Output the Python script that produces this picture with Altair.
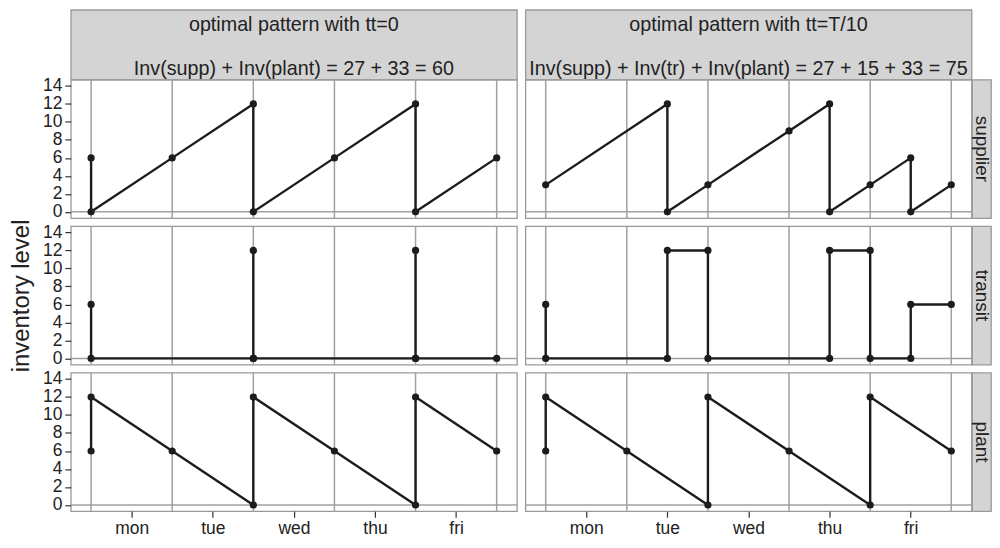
import json
import altair as alt
import pandas as pd

# ---------------- data ----------------
pattern_titles = ["optimal pattern with tt=0", "optimal pattern with tt=T/10"]
pattern_sums = ["Inv(supp) + Inv(plant) = 27 + 33 = 60",
                "Inv(supp) + Inv(tr) + Inv(plant) = 27 + 15 + 33 = 75"]
locations = ["supplier", "transit", "plant"]
day_labels = ["mon", "tue", "wed", "thu", "fri"]
day_ticks = [0.5, 1.5, 2.5, 3.5, 4.5]
day_bounds = [0, 1, 2, 3, 4, 5]
y_ticks = [0, 2, 4, 6, 8, 10, 12, 14]

# tt = 0
supp0_x = [0, 0, 1, 2, 2, 3, 4, 4, 5]
supp0_y = [6, 0, 6, 12, 0, 6, 12, 0, 6]
tran0_x = [0, 0, 2, 2, 2, 4, 4, 4, 5]
tran0_y = [6, 0, 0, 12, 0, 0, 12, 0, 0]
plan0_x = [0, 0, 1, 2, 2, 3, 4, 4, 5]
plan0_y = [6, 12, 6, 0, 12, 6, 0, 12, 6]
# tt = T/10
supp1_x = [0, 1.5, 1.5, 2, 3, 3.5, 3.5, 4, 4.5, 4.5, 5]
supp1_y = [3, 12, 0, 3, 9, 12, 0, 3, 6, 0, 3]
tran1_x = [0, 0, 1.5, 1.5, 2, 2, 3.5, 3.5, 4, 4, 4.5, 4.5, 5]
tran1_y = [6, 0, 0, 12, 12, 0, 0, 12, 12, 0, 0, 6, 6]
plan1_x = [0, 0, 1, 2, 2, 3, 4, 4, 5]
plan1_y = [6, 12, 6, 0, 12, 6, 0, 12, 6]

series = {
    (0, "supplier"): (supp0_x, supp0_y),
    (0, "transit"): (tran0_x, tran0_y),
    (0, "plant"): (plan0_x, plan0_y),
    (1, "supplier"): (supp1_x, supp1_y),
    (1, "transit"): (tran1_x, tran1_y),
    (1, "plant"): (plan1_x, plan1_y),
}

# ---------------- style ----------------
FONT = "Liberation Sans"
GRID = "#a0a0a0"
BORDER = "#999999"
STRIP = "#d4d4d4"
INK = "#1c1c1c"
TXT = "#222222"
PW, PH = 447.5, 139
STRIP_H = 70
RSTRIP_W = 19
GAP_W, GAP_H = 7.5, 8
TICK_FS = 17.5
STRIP_FS = 19.8

xs = alt.Scale(domain=[-0.25, 5.25], nice=False, zero=False)
ys = alt.Scale(domain=[-0.7, 14.7], nice=False, zero=False)

label_expr = json.dumps(day_labels) + "[round(datum.value - 0.5)]"


def x_axis(show):
    if not show:
        return None
    return alt.Axis(values=day_ticks, labelExpr=label_expr, grid=False, domain=False,
                    tickSize=6, tickColor="#333333", tickWidth=1.2, labelPadding=2,
                    labelFontSize=TICK_FS, labelColor=TXT, labelOverlap=False,
                    labelFlush=False, title=None)


def y_axis(show, title_visible):
    if not show:
        return None
    return alt.Axis(values=y_ticks, grid=False, domain=False, tickSize=6,
                    tickColor="#333333", tickWidth=1.2, labelPadding=3,
                    labelFontSize=TICK_FS, labelColor=TXT, labelOverlap=False,
                    labelFlush=False,
                    title="inventory level", titleFontSize=24, titleFontWeight="normal",
                    titleColor=TXT if title_visible else "transparent", titlePadding=9)


def panel(pi, loc, left, bottom):
    xv, yv = series[(pi, loc)]
    d = pd.DataFrame({"i": list(range(len(xv))), "x": xv, "y": yv})
    xa = x_axis(bottom)
    ya = y_axis(left, loc == "transit")
    xe = alt.X("x:Q", scale=xs, axis=xa)
    ye = alt.Y("y:Q", scale=ys, axis=ya)
    vgrid = alt.Chart(pd.DataFrame({"x": day_bounds})).mark_rule(
        color=GRID, strokeWidth=1.5).encode(x=xe)
    hgrid = alt.Chart(pd.DataFrame({"y": [0]})).mark_rule(
        color=GRID, strokeWidth=1.5).encode(y=ye)
    line = alt.Chart(d).mark_line(color=INK, strokeWidth=2.4).encode(
        x=xe, y=ye, order=alt.Order("i:Q"))
    pts = alt.Chart(d).mark_circle(color=INK, size=52, opacity=1).encode(x=xe, y=ye)
    return alt.layer(vgrid, hgrid, line, pts).properties(
        width=PW, height=PH,
        view=alt.ViewBackground(stroke=BORDER, strokeWidth=1.3))


def top_strip(pi):
    d = pd.DataFrame({"t1": [pattern_titles[pi]], "t2": [pattern_sums[pi]]})
    base = alt.Chart(d).mark_text(fontSize=STRIP_FS, color=TXT, align="center",
                                  baseline="middle")
    l1 = base.encode(text="t1:N", x=alt.value(PW / 2), y=alt.value(15.5))
    l2 = base.encode(text="t2:N", x=alt.value(PW / 2), y=alt.value(59))
    return alt.layer(l1, l2).properties(
        width=PW, height=STRIP_H,
        view=alt.ViewBackground(fill=STRIP, stroke=BORDER, strokeWidth=1.3))


def right_strip(loc):
    return alt.Chart(pd.DataFrame({"t": [loc]})).mark_text(
        fontSize=19, color=TXT, angle=90, align="center", baseline="middle").encode(
        text="t:N", x=alt.value(RSTRIP_W / 2 + 0.5), y=alt.value(PH / 2)).properties(
        width=RSTRIP_W, height=PH,
        view=alt.ViewBackground(fill=STRIP, stroke=BORDER, strokeWidth=1.3))


def spacer():
    return alt.Chart(pd.DataFrame({"a": [0]})).mark_point(size=1, opacity=0).encode(
        x=alt.value(2), y=alt.value(2)).properties(width=GAP_W, height=GAP_H)


cells = [top_strip(0), spacer(), top_strip(1), spacer()]
for r, loc in enumerate(locations):
    bottom = loc == "plant"
    cells += [panel(0, loc, True, bottom), spacer(), panel(1, loc, False, bottom), right_strip(loc)]
    if r < len(locations) - 1:
        cells += [spacer(), spacer(), spacer(), spacer()]

chart = alt.ConcatChart(
    concat=cells, columns=4, spacing=0, bounds="flush", align="each",
    padding={"left": 0, "top": 0, "right": 0, "bottom": 0},
).configure(font=FONT).configure_view(stroke="transparent")

chart.save("out.html", embed_options={"renderer": "svg", "actions": False})
